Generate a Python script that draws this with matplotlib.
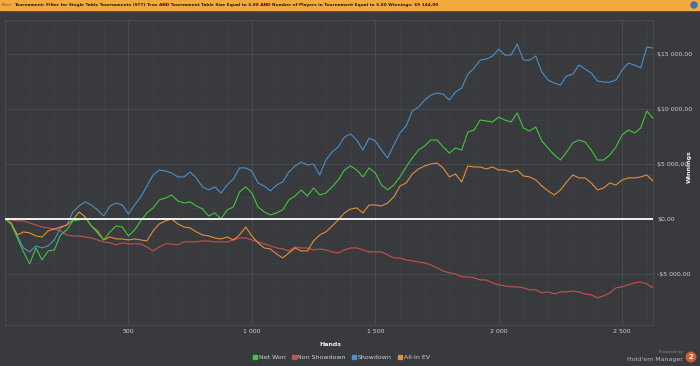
import matplotlib
matplotlib.use("Agg")
from matplotlib import pyplot as plt
from matplotlib.lines import Line2D
from matplotlib.patches import Rectangle, Ellipse
from matplotlib.ticker import FixedLocator, MultipleLocator, FuncFormatter

# hands played (sampled every 25 hands)
hands = list(range(0, 2626, 25))

net_won = [0, -450, -1730, -3000, -4090, -2640, -3730, -2910, -2820, -1450,
           -1000, -180, -90, 90, -640, -1270, -1910, -1180, -640, -730,
           -1550, -1000, -180, 550, 1000, 1730, 1910, 2180, 1640, 1450,
           1550, 1180, 910, 270, 550, 0, 820, 1090, 2450, 2910,
           2360, 1090, 640, 360, 550, 820, 1730, 2090, 2640, 2090,
           2820, 2180, 2360, 2910, 3550, 4450, 4820, 4450, 3820, 4640,
           4180, 3090, 2640, 3090, 3820, 4730, 5550, 6270, 6640, 7180,
           7180, 6550, 6000, 6450, 6270, 7910, 8090, 9000, 8910, 8820,
           9270, 9000, 8820, 9640, 8270, 8000, 8360, 7090, 6450, 5820,
           5360, 6090, 6910, 7180, 7000, 6270, 5360, 5360, 5820, 6550,
           7640, 8090, 7820, 8270, 9820, 9144]

non_showdown = [0, -90, -180, -180, -360, -550, -730, -820, -910, -1090,
                -1450, -1550, -1550, -1640, -1730, -1910, -2090, -2180, -2360, -2180,
                -2270, -2270, -2270, -2550, -2910, -2550, -2270, -2270, -2360, -2090,
                -2090, -2090, -2000, -2000, -2090, -2090, -2090, -1910, -1730, -1730,
                -1910, -2090, -2270, -2450, -2640, -2730, -2910, -2550, -2640, -2640,
                -2820, -2730, -2820, -3000, -3090, -2820, -2640, -2640, -2820, -3000,
                -3000, -3000, -3270, -3550, -3550, -3730, -3820, -3910, -4000, -4180,
                -4450, -4730, -4910, -5000, -5270, -5270, -5360, -5550, -5550, -5820,
                -6000, -6090, -6180, -6180, -6270, -6450, -6450, -6730, -6640, -6820,
                -6640, -6640, -6550, -6640, -6820, -6910, -7180, -7000, -6730, -6270,
                -6180, -6000, -5820, -5730, -5910, -6270]

showdown = [0, -450, -1550, -2640, -3000, -2450, -2640, -2450, -1910, -820,
            -550, 640, 1180, 1550, 1270, 820, 270, 1180, 1450, 1270,
            450, 1270, 2000, 3000, 4000, 4450, 4360, 4180, 3820, 3820,
            4270, 3730, 2910, 2640, 2910, 2360, 3090, 3640, 4640, 4640,
            4360, 3270, 3000, 2550, 3090, 3360, 4270, 4820, 5180, 4910,
            5000, 4000, 5360, 6090, 6550, 7450, 7730, 7180, 6270, 7360,
            7090, 6270, 5550, 6730, 7820, 8450, 9820, 10180, 10820, 11270,
            11450, 11360, 10820, 11550, 11910, 13180, 13730, 14450, 14550, 14820,
            15450, 14910, 14910, 15910, 14450, 14450, 14820, 13360, 12640, 12360,
            12180, 13000, 13180, 14000, 13640, 13270, 12550, 12450, 12450, 12640,
            13550, 14180, 14000, 13730, 15640, 15550]

all_in_ev = [0, -360, -1450, -1180, -1270, -1550, -1640, -1090, -910, -730,
             -550, -90, 640, 180, -640, -1090, -1910, -1640, -1820, -1820,
             -1910, -1820, -1910, -2000, -1090, -450, -180, 0, -450, -730,
             -820, -1180, -1450, -1550, -1730, -1820, -1640, -1910, -1450, -730,
             -1550, -2180, -2640, -2730, -3180, -3550, -3090, -2640, -2910, -2910,
             -2000, -1450, -1180, -640, -90, 550, 910, 1000, 550, 1270,
             1270, 1180, 1450, 2000, 3000, 3270, 4090, 4550, 4820, 5000,
             5090, 4640, 3820, 4090, 3360, 4820, 4730, 4730, 4550, 4730,
             4450, 4450, 4270, 4450, 3910, 3820, 3550, 3000, 2550, 2180,
             2640, 3360, 4000, 3730, 3730, 3270, 2640, 2820, 3270, 3090,
             3550, 3730, 3730, 3820, 4000, 3450]

x_ticks = [500, 1000, 1500, 2000, 2500]
x_labels = ['500', '1 000', '1 500', '2 000', '2 500']
y_ticks = [-5000, 0, 5000, 10000, 15000]
legend_names = ['Net Won', 'Non Showdown', 'Showdown', 'All-In EV']

BG = '#393a3e'
C_GREEN = '#41c63d'
C_RED = '#c9504e'
C_BLUE = '#4a8fc9'
C_ORANGE = '#e38f3a'
TXT = '#cfcfcf'


def money(v, pos=None):
    s = f"{abs(v):,.2f}".replace(',', ' ').replace('.', ',')
    return ('-$' if v < 0 else '$') + s


fig = plt.figure(figsize=(7, 3.66), dpi=100, facecolor=BG)

# orange filter bar on top
fig.add_artist(Rectangle((0, 1 - 10 / 366), 1, 10 / 366, transform=fig.transFigure,
                         color='#f2a93e', zorder=0))
fig.text(2 / 700, 1 - 5 / 366, 'Filter:', fontsize=3.1, color='#7a5a2a', va='center')
fig.text(14 / 700, 1 - 5 / 366,
         'Tournament: Filter for Single Table Tournaments (STT) True AND Tournament Table Size '
         'Equal to 3.00 AND Number of Players in Tournament Equal to 3.00 Winnings: $9 144,00',
         fontsize=3.1, color='#2a1a05', weight='bold', va='center')
fig.add_artist(Ellipse((694 / 700, 1 - 5 / 366), 6 / 700, 6 / 366, transform=fig.transFigure,
                       color='#3f6fae'))

ax = fig.add_axes([5 / 700, 1 - 325 / 366, 648 / 700, 305 / 366])
ax.set_facecolor(BG)
ax.set_xlim(0, 2625)
ax.set_ylim(-9650, 18100)

ax.xaxis.set_major_locator(FixedLocator(x_ticks))
ax.xaxis.set_minor_locator(MultipleLocator(100))
ax.set_xticklabels(x_labels)
ax.yaxis.set_major_locator(FixedLocator(y_ticks))
ax.yaxis.set_minor_locator(MultipleLocator(1000))
ax.yaxis.set_major_formatter(FuncFormatter(money))
ax.yaxis.tick_right()

ax.grid(which='major', color='#4b4c51', lw=0.6)
ax.grid(which='minor', color='#3f4044', lw=0.5)
ax.set_axisbelow(True)
ax.tick_params(which='both', length=0)
ax.tick_params(axis='x', labelsize=4.5, labelcolor=TXT, pad=3)
ax.tick_params(axis='y', labelsize=4.5, labelcolor=TXT, pad=3)
for sp in ax.spines.values():
    sp.set_color('#4b4c51')
    sp.set_linewidth(0.6)

ax.plot(hands, non_showdown, color=C_RED, lw=0.8)
ax.plot(hands, showdown, color=C_BLUE, lw=0.8)
ax.plot(hands, all_in_ev, color=C_ORANGE, lw=0.8)
ax.plot(hands, net_won, color=C_GREEN, lw=0.8)
ax.axhline(0, color='#f2f2f2', lw=1.4, zorder=5)

fig.text(330 / 700, 1 - 344 / 366, 'Hands', fontsize=4.5, color='#eeeeee', weight='bold',
         ha='center', va='center')
fig.text(689 / 700, 1 - 167 / 366, 'Winnings', fontsize=4.5, color='#eeeeee', weight='bold',
         rotation=90, ha='center', va='center')

handles = [Line2D([], [], marker='s', ls='', color=c, markersize=2.5, label=n)
           for c, n in zip([C_GREEN, C_RED, C_BLUE, C_ORANGE], legend_names)]
fig.legend(handles=handles, loc='center', bbox_to_anchor=(341 / 700, 1 - 357 / 366), ncol=4,
           frameon=False, fontsize=4.5, labelcolor=TXT, handletextpad=0.2,
           columnspacing=0.9, handlelength=0.8, borderaxespad=0)

# Hold'em Manager logo, bottom right
fig.text(683 / 700, 1 - 352 / 366, 'Powered by', fontsize=3, color='#8a8a8a', ha='right',
         va='center')
fig.text(683 / 700, 1 - 359 / 366, "Hold'em Manager", fontsize=4.5, color='#b8b8b8', ha='right',
         va='center')
fig.text(691 / 700, 1 - 357 / 366, '2', fontsize=5, color='white', weight='bold', ha='center',
         va='center', bbox=dict(boxstyle='circle,pad=0.35', fc='#e0582b', ec='none'))

fig.savefig('out.png', dpi=100, facecolor=BG)
